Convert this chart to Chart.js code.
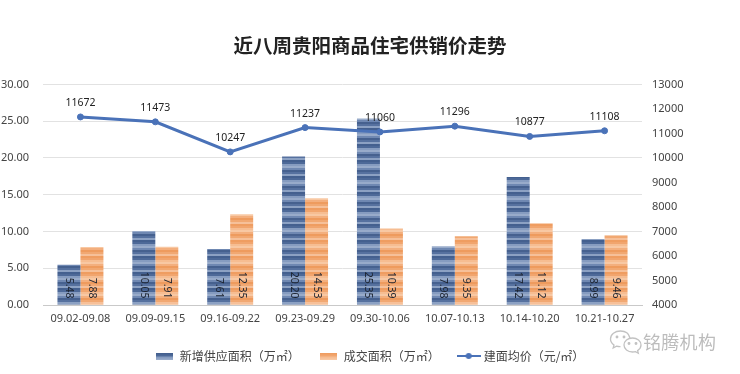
<!DOCTYPE html>
<html>
<head>
<meta charset="utf-8">
<script src="https://cdn.jsdelivr.net/npm/chart.js@4"></script>
<style>
  html, body { margin: 0; padding: 0; background: #fff; }
  #wrap { position: relative; width: 740px; height: 374px; overflow: hidden; }
  #c { filter: blur(0.35px); }
  #mark { position: absolute; left: 643px; top: 328px; font: 18px "Noto Sans CJK SC"; color: #bcbcbc; letter-spacing: 0.3px; white-space: nowrap; }
  #wechat { position: absolute; left: 609px; top: 329px; }
</style>
</head>
<body>
<div id="wrap">
  <canvas id="c" width="740" height="374"></canvas>
  <svg id="wechat" width="34" height="26" viewBox="0 0 34 26" fill="none" stroke="#c2c2c2" stroke-width="1.3">
    <path d="M21 9C20 4.500 16 2 11.500 2 6 2 1.500 5.500 1.500 10c0 2.500 1.300 4.500 3.500 6l-.8 3 3.300-1.800c1.300.4 2.500.6 4 .5"/>
    <path d="M32 16c0-4-3.800-7-8.500-7S15 12 15 16s3.800 7 8.500 7c1 0 2-.1 3-.4l2.800 1.600-.7-2.600c2-1.300 3.400-3.300 3.400-5.600z"/>
    <circle cx="8" cy="8" r=".8" fill="#c2c2c2"/><circle cx="15" cy="8" r=".8" fill="#c2c2c2"/>
    <circle cx="20" cy="14.500" r=".8" fill="#c2c2c2"/><circle cx="27" cy="14.500" r=".8" fill="#c2c2c2"/>
  </svg>
  <div id="mark">铭腾机构</div>
</div>
<script>
const TITLE = '近八周贵阳商品住宅供销价走势';
const WEEKS = ['09.02-09.08', '09.09-09.15', '09.16-09.22', '09.23-09.29', '09.30-10.06', '10.07-10.13', '10.14-10.20', '10.21-10.27'];
const SUPPLY_AREA = [5.48, 10.05, 7.61, 20.20, 25.35, 7.98, 17.42, 8.99];
const DEAL_AREA = [7.88, 7.91, 12.35, 14.53, 10.39, 9.35, 11.12, 9.46];
const AVG_PRICE = [11672, 11473, 10247, 11237, 11060, 11296, 10877, 11108];

const BLUE_STRIPES = ['#44608f', '#4d6998', '#869cc0', '#98abca', '#6f88b2', '#46618f', '#56719f', '#8ca1c3'];
const ORANGE_STRIPES = ['#ef9d61', '#f1a56e', '#f6bd92', '#f8c8a3', '#f3af7e', '#ee9b5e', '#f1a872', '#f6c099'];
const LINE_COLOR = '#4a72b8';
const FONT = '"Noto Sans", "Noto Sans CJK SC", sans-serif';

// stripy fill used by the two bar series, the source chart has a picture fill
function stripes(colors, stepH) {
  const tile = document.createElement('canvas');
  tile.width = 4;
  tile.height = colors.length * stepH;
  const g = tile.getContext('2d');
  colors.forEach((col, i) => {
    g.fillStyle = col;
    g.fillRect(0, i * stepH, 4, stepH);
  });
  return tile;
}

function barSwatch(tile) {
  const sw = document.createElement('canvas');
  sw.width = 17;
  sw.height = 7;
  const g = sw.getContext('2d');
  g.fillStyle = g.createPattern(tile, 'repeat');
  g.fillRect(0, 0, 17, 7);
  return sw;
}

function lineSwatch() {
  const sw = document.createElement('canvas');
  sw.width = 24;
  sw.height = 8;
  const g = sw.getContext('2d');
  g.strokeStyle = LINE_COLOR;
  g.lineWidth = 2;
  g.beginPath();
  g.moveTo(0, 4);
  g.lineTo(24, 4);
  g.stroke();
  g.fillStyle = LINE_COLOR;
  g.beginPath();
  g.arc(12, 4, 3, 0, Math.PI * 2);
  g.fill();
  return sw;
}

const ctx = document.getElementById('c').getContext('2d');
const blueTile = stripes(BLUE_STRIPES, 2);
const orangeTile = stripes(ORANGE_STRIPES, 2);
const swatches = [barSwatch(blueTile), barSwatch(orangeTile), lineSwatch()];

const valueLabels = {
  id: 'valueLabels',
  afterDatasetsDraw(chart) {
    const { ctx } = chart;
    ctx.save();
    ctx.fillStyle = '#1d2430';
    ctx.font = '10.5px ' + FONT;
    [0, 1].forEach((ds) => {
      chart.getDatasetMeta(ds).data.forEach((bar, i) => {
        const v = chart.data.datasets[ds].data[i];
        ctx.save();
        ctx.translate(bar.x, bar.base - 6);
        ctx.rotate(Math.PI / 2);
        ctx.textAlign = 'right';
        ctx.textBaseline = 'middle';
        ctx.fillText(v.toFixed(2), 0, 0);
        ctx.restore();
      });
    });
    ctx.fillStyle = '#222';
    ctx.textAlign = 'center';
    ctx.textBaseline = 'middle';
    chart.getDatasetMeta(2).data.forEach((pt, i) => {
      ctx.fillText(String(chart.data.datasets[2].data[i]), pt.x, pt.y - 14);
    });
    ctx.restore();
  },
};

new Chart(ctx, {
  type: 'bar',
  data: {
    labels: WEEKS,
    datasets: [
      {
        label: '新增供应面积（万㎡）',
        data: SUPPLY_AREA,
        backgroundColor: ctx.createPattern(blueTile, 'repeat'),
        yAxisID: 'y',
        order: 1,
        categoryPercentage: 0.614,
        barPercentage: 1,
      },
      {
        label: '成交面积（万㎡）',
        data: DEAL_AREA,
        backgroundColor: ctx.createPattern(orangeTile, 'repeat'),
        yAxisID: 'y',
        order: 1,
        categoryPercentage: 0.614,
        barPercentage: 1,
      },
      {
        type: 'line',
        label: '建面均价（元/㎡）',
        data: AVG_PRICE,
        yAxisID: 'y1',
        order: 0,
        borderColor: LINE_COLOR,
        backgroundColor: LINE_COLOR,
        borderWidth: 3,
        pointRadius: 3,
        pointBorderWidth: 1,
        tension: 0,
      },
    ],
  },
  options: {
    responsive: false,
    animation: false,
    layout: { padding: { top: 0, bottom: 2 } },
    plugins: {
      tooltip: { enabled: false },
      title: {
        display: true,
        text: TITLE,
        color: '#222',
        font: { size: 19.5, weight: 'bold', family: '"Noto Sans CJK SC"' },
        padding: { top: 34, bottom: 27 },
      },
      legend: {
        position: 'bottom',
        labels: {
          usePointStyle: true,
          pointStyleWidth: 18,
          boxHeight: 12,
          padding: 20,
          color: '#444',
          font: { size: 12, family: '"Noto Sans CJK SC"' },
          generateLabels: (chart) => chart.data.datasets.map((d, i) => ({
            text: d.label,
            pointStyle: swatches[i],
            datasetIndex: i,
            fontColor: '#444',
            lineWidth: 0,
          })),
        },
      },
    },
    scales: {
      x: {
        grid: { display: false, drawTicks: false },
        border: { color: '#c9c9c9', width: 1 },
        ticks: { color: '#444', font: { size: 11, family: FONT }, padding: 7, maxRotation: 0, autoSkip: false },
        afterFit: (s) => { s.height = 25; },
      },
      y: {
        position: 'left',
        min: 0,
        max: 30,
        grid: { color: '#e2e2e2', drawTicks: false },
        border: { display: false },
        ticks: { stepSize: 5, color: '#444', font: { size: 11, family: FONT }, padding: 14, callback: (v) => v.toFixed(2) },
        afterFit: (s) => { s.width = 43; },
      },
      y1: {
        position: 'right',
        min: 4000,
        max: 13000,
        grid: { display: false, drawTicks: false },
        border: { display: false },
        ticks: { stepSize: 1000, color: '#444', font: { size: 11, family: FONT }, padding: 10, callback: (v) => String(v) },
        afterFit: (s) => { s.width = 98; },
      },
    },
  },
  plugins: [valueLabels],
});
</script>
</body>
</html>
